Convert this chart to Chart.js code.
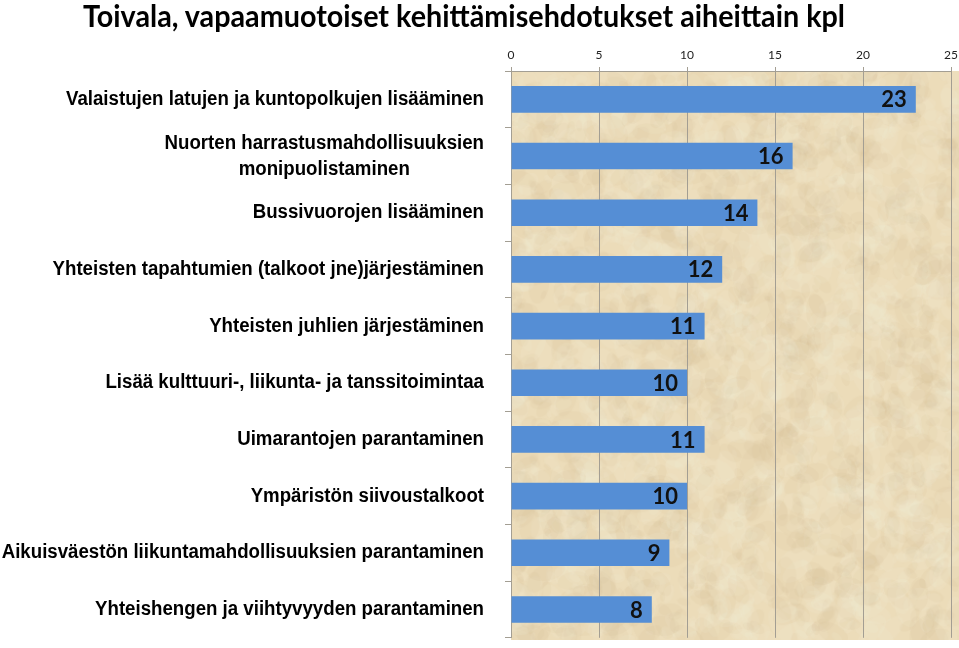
<!DOCTYPE html>
<html><head><meta charset="utf-8">
<script src="https://cdn.jsdelivr.net/npm/chart.js@4"></script>
<style>
html,body{margin:0;padding:0;background:#fff;}
#wrap{position:relative;width:959px;height:648px;overflow:hidden;}
canvas{position:absolute;left:0;top:0;}
#title{position:absolute;left:83px;top:-3px;font:bold 30px Lato;color:#000;white-space:nowrap;transform-origin:0 0;}
</style></head>
<body>
<div id="wrap">
<canvas id="chart" width="959" height="648"></canvas>
<div id="title">Toivala, vapaamuotoiset kehittämisehdotukset aiheittain kpl</div>
</div>
<script>
const CATEGORIES = [
  'Valaistujen latujen ja kuntopolkujen lisääminen',
  ['Nuorten harrastusmahdollisuuksien','monipuolistaminen'],
  'Bussivuorojen lisääminen',
  'Yhteisten tapahtumien (talkoot jne)järjestäminen',
  'Yhteisten juhlien järjestäminen',
  'Lisää kulttuuri-, liikunta- ja tanssitoimintaa',
  'Uimarantojen parantaminen',
  'Ympäristön siivoustalkoot',
  'Aikuisväestön liikuntamahdollisuuksien parantaminen',
  'Yhteishengen ja viihtyvyyden parantaminen'
];
const VALUES = [23, 16, 14, 12, 11, 10, 11, 10, 9, 8];
const X_MIN = 0, X_MAX = 25, X_STEP = 5;

function el(id){return document.getElementById(id);}

// fit title to the reference width
const t = el('title');
const tw = t.getBoundingClientRect().width;
t.style.transform = 'scaleX(' + (762 / tw) + ')';

// parchment texture (deterministic)
function hash(n){const s=Math.sin(n*12.9898)*43758.5453;return s-Math.floor(s);}
function makeParchment(){
  const c=document.createElement('canvas'); c.width=460; c.height=580;
  const g=c.getContext('2d');
  g.fillStyle='#ecdcb9'; g.fillRect(0,0,c.width,c.height);
  for(let i=0;i<2500;i++){
    const x=hash(i*3+1)*c.width, y=hash(i*3+2)*c.height, r=2+hash(i*3+3)*9;
    const dark=hash(i*7+5)>0.55;
    g.fillStyle=dark?'rgba(205,175,125,0.07)':'rgba(250,242,224,0.10)';
    g.beginPath(); g.ellipse(x,y,r*1.8,r,hash(i)*3,0,Math.PI*2); g.fill();
  }
  return c;
}
const parchment = makeParchment();

const bgPlugin = {
  id:'bg',
  beforeDraw(chart){
    const a=chart.chartArea, ctx=chart.ctx;
    ctx.save();
    ctx.drawImage(parchment, a.left, a.top, chart.width - a.left, a.bottom - a.top + 2);
    ctx.restore();
  }
};

const LABEL_FONT = 'bold 20px "Liberation Sans", Arial, sans-serif';
const yLabelPlugin = {
  id:'ylabels',
  afterDraw(chart){
    const ctx=chart.ctx, y=chart.scales.y;
    ctx.save();
    ctx.font=LABEL_FONT;
    // narrow the face like Arial Narrow: first label is 418px wide in the reference
    const k = 418 / ctx.measureText(CATEGORIES[0]).width;
    ctx.fillStyle='#000'; ctx.textBaseline='middle'; ctx.textAlign='center';
    CATEGORIES.forEach((lab,i)=>{
      const lines=Array.isArray(lab)?lab:[lab];
      const cy=y.getPixelForValue(i);
      const w=Math.max(...lines.map(l=>ctx.measureText(l).width))*k;
      const cx=484-w/2;
      lines.forEach((l,j)=>{
        ctx.save();
        ctx.translate(cx, cy+(j-(lines.length-1)/2)*26);
        ctx.scale(k,1);
        ctx.fillText(l,0,0);
        ctx.restore();
      });
    });
    ctx.restore();
  }
};

const valuePlugin = {
  id:'values',
  afterDatasetsDraw(chart){
    const ctx=chart.ctx, meta=chart.getDatasetMeta(0);
    ctx.save();
    ctx.font='bold 22px Lato, sans-serif';
    ctx.fillStyle='#111'; ctx.textAlign='right'; ctx.textBaseline='middle';
    meta.data.forEach((bar,i)=>ctx.fillText(String(VALUES[i]), bar.x-9, bar.y+1));
    ctx.restore();
  }
};

new Chart(el('chart').getContext('2d'), {
  type:'bar',
  data:{labels:CATEGORIES, datasets:[{data:VALUES, backgroundColor:'#558ed5', borderWidth:0,
    categoryPercentage:1, barPercentage:0.47}]},
  options:{
    indexAxis:'y', responsive:false, animation:false,
    layout:{padding:{right:8,bottom:1,top:0,left:0}},
    plugins:{legend:{display:false}, tooltip:{enabled:false}},
    scales:{
      x:{position:'top', min:X_MIN, max:X_MAX,
        ticks:{stepSize:X_STEP, color:'#222', font:{family:'Lato, sans-serif', size:12}, padding:5},
        grid:{color:'#a39e93', tickLength:4},
        border:{color:'#a39e93'},
        afterFit(s){s.height=71; s.paddingLeft=0; s.paddingRight=0;}
      },
      y:{
        ticks:{callback:()=>''},
        grid:{drawOnChartArea:false, color:'#a39e93', tickLength:6},
        border:{color:'#a39e93'},
        afterFit(s){s.width=511;}
      }
    }
  },
  plugins:[bgPlugin, yLabelPlugin, valuePlugin]
});
</script>
</body></html>
